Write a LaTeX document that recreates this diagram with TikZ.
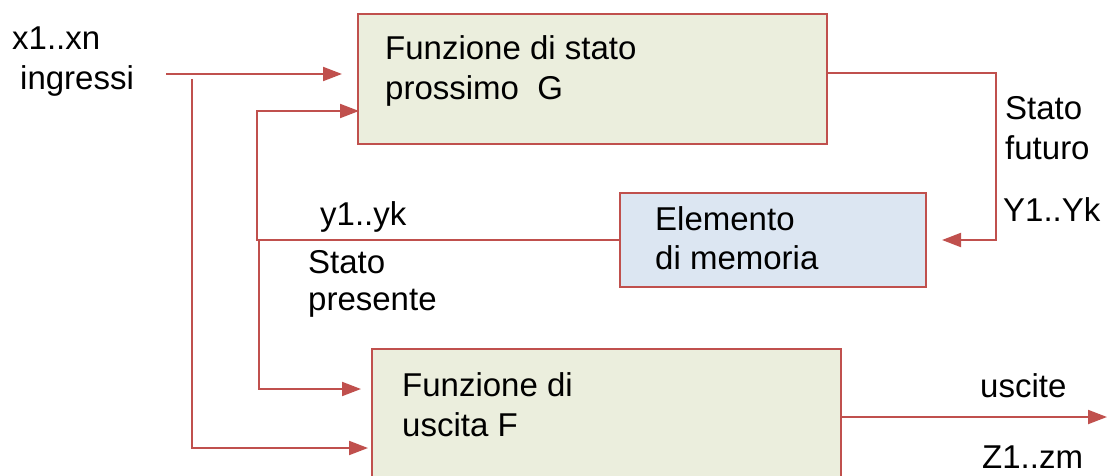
\documentclass[tikz,border=0pt]{standalone}
\usepackage{fontspec}
\setmainfont{Liberation Sans}
\usetikzlibrary{arrows.meta}
\definecolor{lred}{HTML}{C0504D}
\definecolor{gfill}{HTML}{EBEEDD}
\definecolor{mfill}{HTML}{DCE6F2}
\begin{document}
\begin{tikzpicture}[x=1pt,y=-1pt,
  box/.style={draw=lred, line width=2pt, anchor=north west, inner sep=0pt},
  txt/.style={anchor=base west, inner sep=0pt, align=left, font=\fontsize{33}{40}\selectfont},
  conn/.style={draw=lred, line width=2pt},
  arr/.style={conn, -{Triangle[length=19pt,width=14pt]}}]
\path[use as bounding box] (0,0) rectangle (1108,476);
\clip (0,0) rectangle (1108,476);
% boxes
\node[box, fill=gfill, minimum width=469pt, minimum height=130pt] (G) at (357,13) {};
\node[box, fill=mfill, minimum width=306pt, minimum height=94pt] (M) at (619,192) {};
\node[box, fill=gfill, minimum width=469pt, minimum height=160pt] (F) at (371,348) {};
% texts (base anchor = baseline of the last line)
\node[txt, font=\fontsize{33}{40}\selectfont] (tin) at (12,90) {x1..xn\\\hspace*{8pt}ingressi};
\node[txt] (tG) at (385,100) {Funzione di stato\\prossimo\ \ G};
\node[txt] (tfut) at (1005,160) {Stato\\futuro};
\node[txt] (tY) at (1003,221) {Y1..Yk};
\node[txt] (ty) at (320,225) {y1..yk};
\node[txt, font=\fontsize{33}{37}\selectfont] (tpres) at (308,310) {Stato\\presente};
\node[txt, font=\fontsize{33}{39}\selectfont] (tM) at (655,269) {Elemento\\di memoria};
\node[txt] (tF) at (402,436) {Funzione di\\uscita F};
\node[txt] (tout) at (980,397) {uscite};
\node[txt] (tZ) at (982,468) {Z1..zm};
% coordinates
\coordinate (inS) at (166,74);
\coordinate (brT) at (192,79);
\coordinate (brB) at (192,448);
\coordinate (fb1) at (257,111);
\coordinate (fb2) at (259,389);
\coordinate (gout) at (996,73);
\coordinate (fout) at (1107,417);
% connectors
\draw[arr] (inS) -- ([xshift=-15pt]G.west |- inS);
\draw[arr] (brT) -- (brB) -- ([xshift=-3pt]F.west |- brB);
\draw[arr] (M.west) -- (M.west -| fb1) -- (fb1) -- ([xshift=2pt]G.west |- fb1);
\draw[arr] (M.west -| fb2) -- (fb2) -- ([xshift=-10pt]F.west |- fb2);
\draw[arr] (G.east |- gout) -- (gout) -- (gout |- M.east) -- ([xshift=15pt]M.east);
\draw[arr] (F.east |- fout) -- (fout);
\end{tikzpicture}
\end{document}
